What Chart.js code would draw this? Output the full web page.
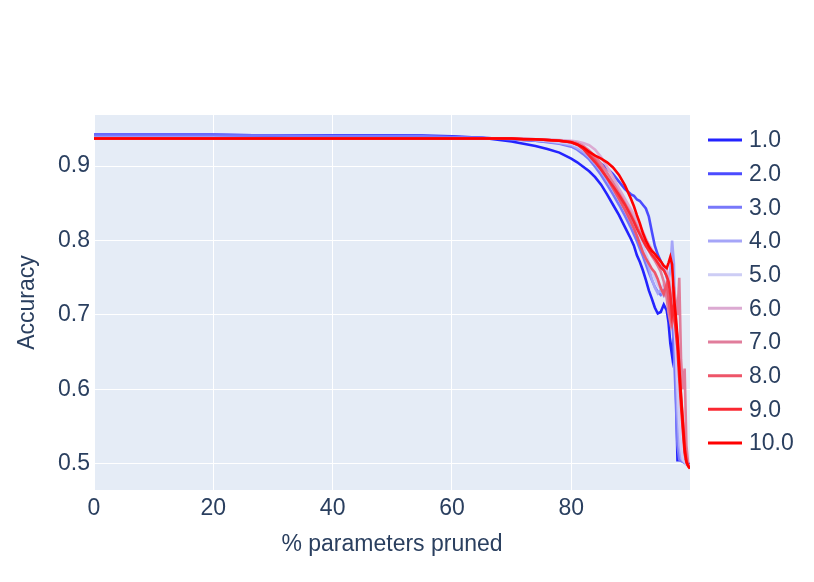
<!DOCTYPE html>
<html>
<head>
<meta charset="utf-8">
<script src="https://cdn.jsdelivr.net/npm/chart.js@4"></script>
<style>
html,body{margin:0;padding:0;background:#fff;}
#wrap{width:814px;height:582px;}
</style>
</head>
<body>
<div id="wrap"><canvas id="c" width="814" height="582"></canvas></div>
<script>
const pruned = [0,10,20,30,40,50,55,60,65,70, 72,74,76,78,80, 81,82,83,84,85,86,87,88,89,90,
  90.5,91,91.5,92,92.5,93,93.5,94,94.5,95,95.5, 96,96.3,96.6,96.9,97.2,97.5,97.8, 98.1,98.4,98.7,99.0,99.3,99.6,99.9];

const acc1 = [.942,.942,.942,.941,.941,.941,.941,.940,.938,.933, .930,.927,.923,.918,.910,
  .905,.899,.893,.885,.875,.862,.848,.834,.818,.802, .793,.780,.771,.760,.747,.733,.722,.710,.702,.704,.714,
  .706,.690,.662,.645,.682,.620,.505, .505,.505,.505,.505,.505,.500,.500];
const acc2 = [.942,.942,.942,.941,.941,.941,.940,.939,.938,.936, .935,.934,.933,.931,.927,
  .923,.918,.913,.908,.903,.897,.889,.879,.869,.862, .860,.855,.853,.848,.843,.832,.812,.793,.781,.772,.764,
  .752,.740,.715,.700,.672,.625,.565, .525,.507,.503,.502,.500,.498,.497];
const acc3 = [.941,.941,.941,.941,.940,.940,.940,.939,.938,.936, .935,.934,.932,.930,.926,
  .922,.916,.909,.899,.888,.875,.862,.848,.833,.817, .808,.799,.789,.779,.768,.757,.747,.738,.731,.727,.733,
  .729,.738,.722,.700,.655,.590,.525, .506,.504,.503,.502,.500,.498,.497];
const acc4 = [.937,.937,.937,.937,.937,.937,.937,.937,.937,.937, .936,.935,.933,.931,.928,
  .924,.919,.912,.903,.893,.881,.868,.855,.841,.826, .817,.808,.798,.787,.776,.764,.748,.737,.729,.734,.726,
  .733,.745,.760,.800,.770,.650,.570, .525,.508,.504,.502,.500,.498,.497];
const acc5 = [.937,.937,.937,.937,.937,.937,.937,.937,.937,.937, .936,.935,.934,.932,.930,
  .927,.922,.916,.908,.898,.886,.873,.860,.846,.832, .824,.815,.805,.794,.783,.771,.760,.749,.740,.735,.741,
  .746,.740,.728,.715,.695,.660,.605, .555,.522,.506,.503,.500,.498,.497];
const acc6 = [.937,.937,.937,.937,.937,.937,.937,.937,.937,.937, .937,.936,.936,.935,.934,
  .933,.931,.928,.922,.912,.899,.885,.870,.856,.842, .835,.828,.820,.812,.803,.795,.788,.782,.776,.770,.765,
  .760,.752,.740,.725,.705,.700,.665, .625,.585,.545,.512,.502,.498,.496];
const acc7 = [.937,.937,.937,.937,.937,.937,.937,.937,.937,.937, .937,.936,.935,.934,.933,
  .931,.927,.921,.913,.903,.891,.878,.864,.850,.836, .828,.820,.811,.802,.793,.786,.779,.773,.766,.758,.745,
  .722,.703,.690,.708,.738,.718,.700, .750,.640,.600,.628,.525,.500,.495];
const acc8 = [.937,.937,.937,.937,.937,.937,.937,.937,.937,.937, .936,.936,.935,.934,.932,
  .929,.924,.917,.908,.897,.884,.870,.856,.841,.825, .816,.806,.795,.784,.776,.769,.762,.757,.748,.736,.728,
  .742,.722,.702,.688,.700,.690,.668, .632,.592,.560,.530,.506,.497,.495];
const acc9 = [.937,.937,.937,.937,.937,.937,.937,.937,.937,.937, .936,.936,.935,.934,.932,
  .929,.923,.914,.905,.895,.884,.873,.861,.848,.833, .825,.816,.808,.800,.793,.787,.781,.776,.770,.764,.760,
  .752,.745,.728,.700,.712,.680,.655, .615,.578,.545,.515,.502,.497,.494];
const acc10 = [.937,.937,.937,.937,.937,.937,.937,.937,.937,.937, .936,.936,.935,.934,.932,
  .929,.925,.919,.914,.910,.905,.898,.888,.874,.856, .846,.834,.823,.810,.800,.792,.786,.782,.777,.772,.766,
  .763,.770,.778,.768,.725,.700,.670, .630,.590,.555,.520,.503,.497,.494];

const seriesLabels = ['1.0','2.0','3.0','4.0','5.0','6.0','7.0','8.0','9.0','10.0'];
const seriesValues = [acc1,acc2,acc3,acc4,acc5,acc6,acc7,acc8,acc9,acc10];
const seriesColors = ['rgb(35,35,255)','rgb(75,75,255)','rgb(120,120,250)','rgb(165,165,248)','rgb(205,205,245)',
  'rgb(220,170,210)','rgb(225,125,155)','rgb(238,85,105)','rgb(250,40,50)','rgb(255,0,0)'];
const xTicks = [0,20,40,60,80];
const yTicks = [0.5,0.6,0.7,0.8,0.9];

const FONT = '"Liberation Sans", Arial, sans-serif';
const FSIZE = 23;
const TXT = '#2a3f5f';

const datasets = seriesValues.map((vals, i) => ({
  label: seriesLabels[i],
  data: pruned.map((x, j) => ({x: x, y: vals[j]})),
  borderColor: seriesColors[i],
  backgroundColor: seriesColors[i],
  borderWidth: 2.6,
  pointRadius: 0,
  tension: 0,
  fill: false,
  order: seriesValues.length - i
}));

const bgPlugin = {
  id: 'bg',
  beforeDraw(chart) {
    const {ctx, chartArea: a} = chart;
    ctx.save();
    ctx.fillStyle = '#e5ecf6';
    ctx.fillRect(a.left, a.top, a.right - a.left, a.bottom - a.top);
    ctx.restore();
  }
};

const legendPlugin = {
  id: 'customLegend',
  afterDraw(chart) {
    const ctx = chart.ctx;
    ctx.save();
    ctx.font = FSIZE + 'px ' + FONT;
    ctx.textBaseline = 'middle';
    ctx.textAlign = 'left';
    seriesLabels.forEach((lab, i) => {
      const y = 140 + i * 33.67;
      ctx.strokeStyle = seriesColors[i];
      ctx.lineWidth = 3;
      ctx.beginPath();
      ctx.moveTo(708, y);
      ctx.lineTo(742, y);
      ctx.stroke();
      ctx.fillStyle = TXT;
      ctx.fillText(lab, 749, y + 1);
    });
    ctx.restore();
  }
};

new Chart(document.getElementById('c'), {
  type: 'line',
  data: {datasets: datasets},
  plugins: [bgPlugin, legendPlugin],
  options: {
    responsive: false,
    devicePixelRatio: 1,
    animation: false,
    layout: {padding: {left: 0, right: 124, top: 115, bottom: 0}},
    plugins: {legend: {display: false}, tooltip: {enabled: false}},
    scales: {
      x: {
        type: 'linear',
        min: 0,
        max: 99.9,
        afterFit(s) { s.height = 92; },
        afterBuildTicks(s) { s.ticks = xTicks.map(v => ({value: v})); },
        ticks: {color: TXT, font: {family: FONT, size: FSIZE}, padding: 5, maxRotation: 0,
          callback: v => String(v)},
        grid: {color: '#ffffff', lineWidth: 1, drawTicks: false},
        border: {display: false},
        title: {display: true, text: '% parameters pruned', color: TXT,
          font: {family: FONT, size: FSIZE}, padding: {top: 0, bottom: 24}}
      },
      y: {
        type: 'linear',
        min: 0.465,
        max: 0.9685,
        afterFit(s) { s.width = 94; },
        afterBuildTicks(s) { s.ticks = yTicks.map(v => ({value: v})); },
        ticks: {color: TXT, font: {family: FONT, size: FSIZE}, padding: 4,
          callback: v => Number(v).toFixed(1)},
        grid: {color: '#ffffff', lineWidth: 1, drawTicks: false},
        border: {display: false},
        title: {display: true, text: 'Accuracy', color: TXT,
          font: {family: FONT, size: FSIZE}, padding: {top: 14, bottom: 0}}
      }
    }
  }
});
</script>
</body>
</html>
